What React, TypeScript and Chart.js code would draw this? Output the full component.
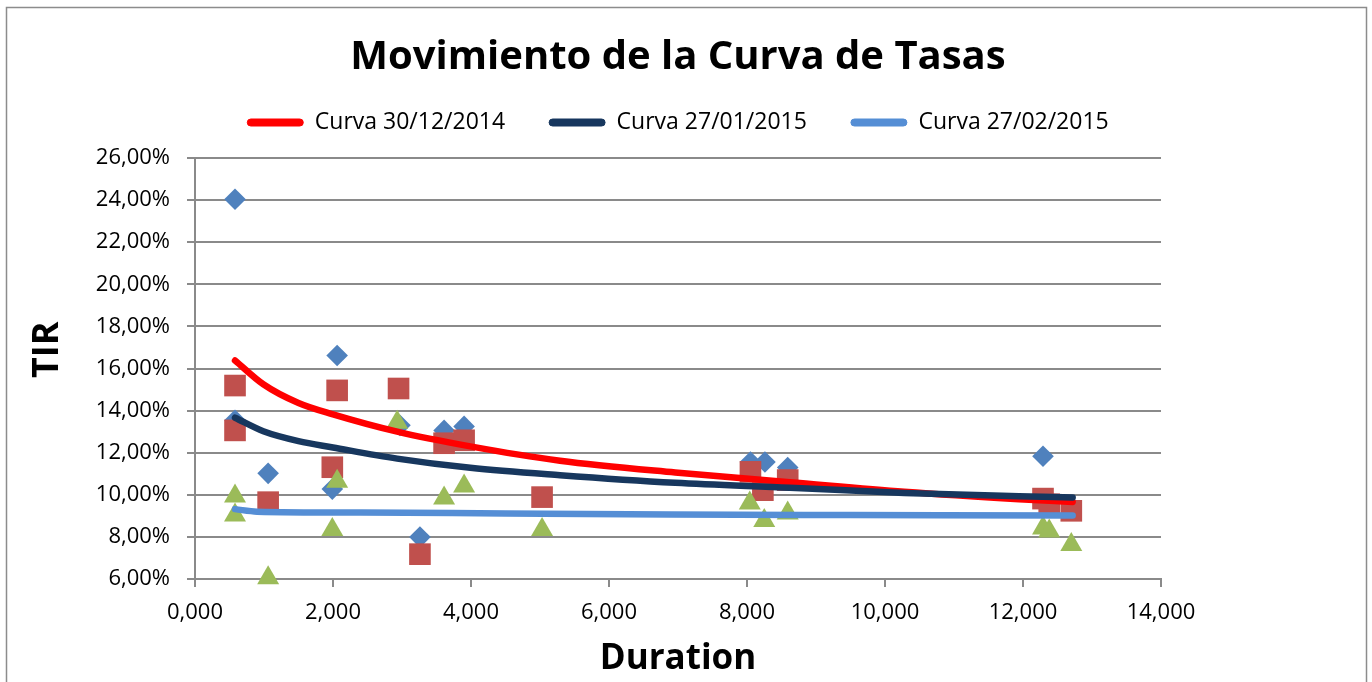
import { useEffect, useRef } from 'react';
import { Chart, registerables } from 'chart.js';

Chart.register(...registerables);

// ---- Texts ----
const TITLE = 'Movimiento de la Curva de Tasas';
const X_TITLE = 'Duration';
const Y_TITLE = '    TIR';
const LINE_LABELS = ['Curva 30/12/2014', 'Curva 27/01/2015', 'Curva 27/02/2015'];
const POINT_LABELS = ['TIR 30/12/2014', 'TIR 27/01/2015', 'TIR 27/02/2015'];

// ---- Axis ranges / ticks ----
const X_MIN = 0;
const X_MAX = 14;
const X_STEP = 2;
const Y_MIN = 6;
const Y_MAX = 26;
const Y_STEP = 2;

// ---- Trend curves ----
const redCurveX = [0.58, 0.99, 1.5, 2.0, 2.93, 3.99, 5.29, 6.96, 8.62, 10.28, 11.94, 12.72];
const redCurveY = [16.38, 15.25, 14.36, 13.82, 13.0, 12.3, 11.62, 11.06, 10.6, 10.14, 9.79, 9.66];

const navyCurveX = [0.58, 0.99, 1.5, 2.0, 2.93, 3.99, 5.29, 6.96, 8.62, 10.28, 11.94, 12.72];
const navyCurveY = [13.66, 13.02, 12.55, 12.25, 11.72, 11.28, 10.93, 10.57, 10.34, 10.09, 9.93, 9.87];

const lightCurveX = [0.58, 0.9, 2.4, 4.5, 6.9, 9.5, 12.72];
const lightCurveY = [9.32, 9.2, 9.16, 9.11, 9.06, 9.04, 9.02];

// ---- Scatter points ----
const diamondX = [0.58, 0.58, 1.06, 1.99, 2.06, 2.97, 3.26, 3.61, 3.9, 8.05, 8.26, 8.59, 12.29];
const diamondY = [24.04, 13.54, 11.02, 10.27, 16.62, 13.3, 7.99, 13.06, 13.25, 11.56, 11.56, 11.3, 11.83];

const squareX = [0.58, 0.58, 1.06, 1.99, 2.06, 2.95, 3.26, 3.61, 3.9, 5.03, 8.05, 8.23, 8.59, 12.29, 12.38, 12.7];
const squareY = [15.19, 13.06, 9.65, 11.31, 14.96, 15.05, 7.18, 12.45, 12.59, 9.89, 11.09, 10.22, 10.7, 9.82, 9.55, 9.24];

const triangleX = [0.58, 0.58, 1.06, 1.99, 2.06, 2.93, 3.61, 3.9, 5.03, 8.04, 8.25, 8.59, 12.29, 12.38, 12.7];
const triangleY = [9.93, 9.03, 6.05, 8.34, 10.64, 13.44, 9.84, 10.41, 8.34, 9.6, 8.77, 9.13, 8.42, 8.27, 7.63];

// ---- Styles ----
const RED = '#FF0000';
const NAVY = '#17375E';
const LIGHT = '#558ED5';
const DIAMOND_C = '#4F81BD';
const SQUARE_C = '#C0504D';
const TRIANGLE_C = '#9BBB59';
const GRID = '#8a8a8a';
const FONT = "'Open Sans', 'Noto Sans', sans-serif";

const pts = (xs: number[], ys: number[]) => xs.map((x, i) => ({ x, y: ys[i] }));

const framePlugin = {
  id: 'frame',
  beforeDraw(chart: any) {
    const { ctx, width, height } = chart;
    ctx.save();
    ctx.fillStyle = '#ffffff';
    ctx.fillRect(0, 0, width, height);
    ctx.strokeStyle = '#8c8c8c';
    ctx.lineWidth = 1.5;
    ctx.strokeRect(6.5, 7.5, 1360, height + 10);
    ctx.restore();
  },
};

const legendGapPlugin = {
  id: 'legendGap',
  beforeUpdate(chart: any) {
    const lg = chart.legend;
    if (lg && !lg.__patched) {
      const orig = lg.fit;
      lg.fit = function () {
        orig.call(this);
        this.height += 14;
      };
      lg.__patched = true;
    }
  },
};

export default function App() {
  const canvasRef = useRef<HTMLCanvasElement | null>(null);

  useEffect(() => {
    document.body.style.margin = '0';
    const canvas = canvasRef.current;
    if (!canvas) return;

    const lineDs = (label: string, xs: number[], ys: number[], color: string, order: number) => ({
      label,
      data: pts(xs, ys),
      showLine: true,
      borderColor: color,
      backgroundColor: color,
      borderWidth: 6.5,
      borderCapStyle: 'round',
      borderJoinStyle: 'round',
      cubicInterpolationMode: 'monotone',
      pointRadius: 0,
      pointHoverRadius: 0,
      fill: false,
      order,
    });

    const pointDs = (label: string, xs: number[], ys: number[], color: string, style: string, radius: number, order: number) => ({
      label,
      data: pts(xs, ys),
      showLine: false,
      backgroundColor: color,
      borderColor: color,
      pointStyle: style,
      pointRadius: radius,
      pointHoverRadius: radius,
      pointBorderWidth: 0,
      clip: false,
      order,
    });

    const chart = new Chart(canvas, {
      type: 'scatter',
      data: {
        datasets: [
          lineDs(LINE_LABELS[0], redCurveX, redCurveY, RED, 2),
          lineDs(LINE_LABELS[1], navyCurveX, navyCurveY, NAVY, 1),
          lineDs(LINE_LABELS[2], lightCurveX, lightCurveY, LIGHT, 0),
          pointDs(POINT_LABELS[0], diamondX, diamondY, DIAMOND_C, 'rectRot', 10.8, 5),
          pointDs(POINT_LABELS[1], squareX, squareY, SQUARE_C, 'rect', 15.3, 4),
          pointDs(POINT_LABELS[2], triangleX, triangleY, TRIANGLE_C, 'triangle', 12.7, 3),
        ] as any,
      },
      options: {
        animation: false,
        responsive: true,
        maintainAspectRatio: false,
        events: [],
        layout: { padding: { left: 0, right: 211, top: 0, bottom: 0 } },
        plugins: {
          tooltip: { enabled: false },
          title: {
            display: true,
            text: TITLE,
            fullSize: false,
            color: '#000',
            font: { family: FONT, size: 40, weight: 'bold', lineHeight: 1.2 },
            padding: { top: 34, bottom: -15 },
          },
          legend: {
            display: true,
            position: 'top',
            fullSize: false,
            labels: {
              color: '#000',
              font: { family: FONT, size: 23 },
              boxWidth: 56,
              boxHeight: 7,
              padding: 44,
              useBorderRadius: true,
              borderRadius: 3.5,
              generateLabels: (c: any) =>
                c.data.datasets.slice(0, 3).map((d: any, i: number) => ({
                  text: d.label,
                  fillStyle: d.borderColor,
                  strokeStyle: d.borderColor,
                  lineWidth: 1,
                  hidden: false,
                  datasetIndex: i,
                  borderRadius: 3.5,
                  fontColor: '#000',
                })),
            },
          },
        },
        scales: {
          x: {
            type: 'linear',
            position: 'bottom',
            min: X_MIN,
            max: X_MAX,
            ticks: {
              stepSize: X_STEP,
              padding: 13,
              color: '#000',
              font: { family: FONT, size: 22 },
              callback: (v: any) => Number(v).toFixed(3).replace('.', ','),
            },
            grid: { drawOnChartArea: false, drawTicks: true, tickLength: 8, color: GRID, lineWidth: 2 },
            border: { display: true, color: GRID, width: 2 },
            title: {
              display: true,
              text: X_TITLE,
              color: '#000',
              font: { family: FONT, size: 35, weight: 'bold', lineHeight: 1.2 },
              padding: { top: 0, bottom: 2 },
            },
            afterFit: (s: any) => {
              s.height = 103;
            },
          },
          y: {
            type: 'linear',
            position: 'left',
            min: Y_MIN,
            max: Y_MAX,
            ticks: {
              stepSize: Y_STEP,
              padding: 17,
              color: '#000',
              font: { family: FONT, size: 22 },
              callback: (v: any) => Number(v).toFixed(2).replace('.', ',') + '%',
            },
            grid: { drawOnChartArea: true, drawTicks: true, tickLength: 8, color: GRID, lineWidth: 2 },
            border: { display: true, color: GRID, width: 2 },
            title: {
              display: true,
              text: Y_TITLE,
              color: '#000',
              font: { family: FONT, size: 36, weight: 'bold', lineHeight: 1.2 },
              padding: { top: 26, bottom: 0 },
            },
            afterFit: (s: any) => {
              s.width = 195;
            },
          },
        },
      } as any,
      plugins: [framePlugin, legendGapPlugin] as any,
    });

    return () => {
      chart.destroy();
    };
  }, []);

  return (
    <div style={{ position: 'relative', width: 1372, height: 682 }}>
      <canvas ref={canvasRef} />
    </div>
  );
}
